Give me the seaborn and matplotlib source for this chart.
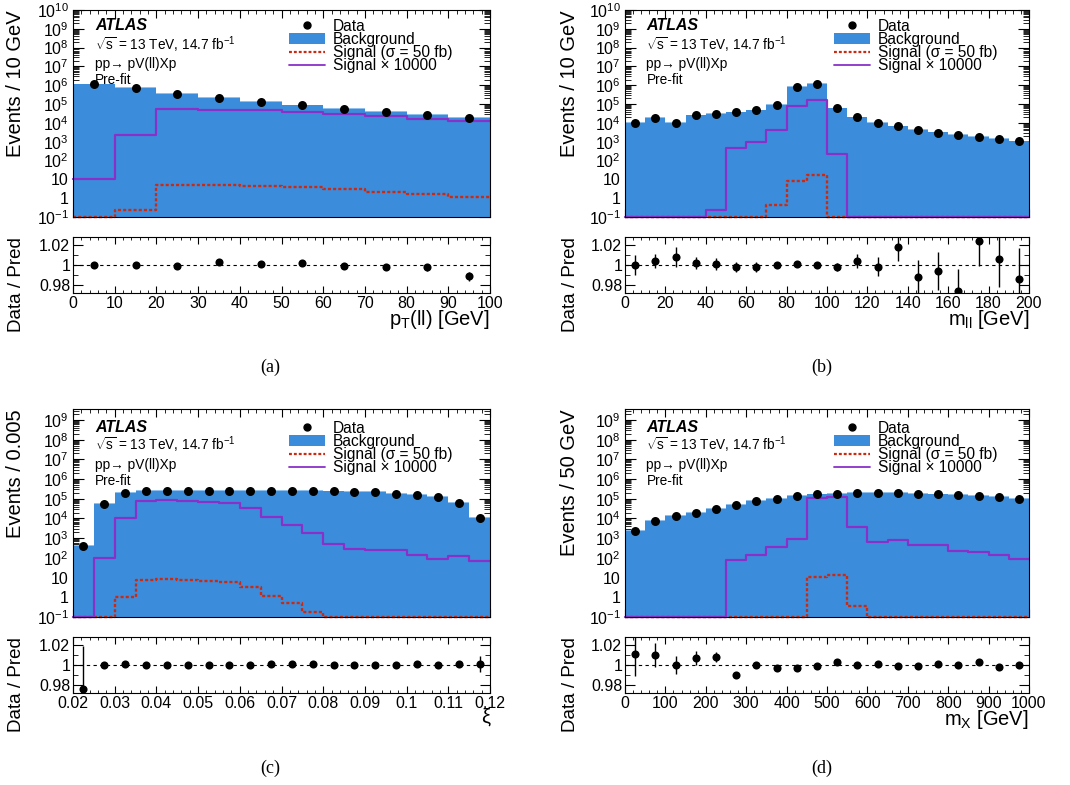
import numpy as np
import matplotlib
matplotlib.use("Agg")
import matplotlib.pyplot as plt
from matplotlib.ticker import MultipleLocator, LogLocator, FuncFormatter, NullFormatter, FixedLocator
from matplotlib.lines import Line2D
from matplotlib.patches import Patch
import seaborn as sns

# ---------------------------------------------------------------- binning
pt_edges = np.arange(0, 101, 10)
mll_edges = np.arange(0, 201, 10)
xi_edges = np.linspace(0.02, 0.12, 21)
mx_edges = np.arange(0, 1001, 50)

# ---------------------------------------------------------------- pT(ll)
pt_background = [1.1e6, 7.5e5, 3.4e5, 2.1e5, 1.3e5, 8.5e4, 5.8e4, 3.9e4, 2.7e4, 1.9e4]
pt_signal = [1.1e-3, 0.24, 5.2, 4.9, 4.7, 3.9, 3.0, 2.2, 1.6, 1.2]
pt_ratio = [1.000, 1.0003, 0.999, 1.003, 1.0014, 1.002, 0.999, 0.9976, 0.9976, 0.9885]
pt_ratio_err = [0.001, 0.001, 0.0012, 0.0015, 0.0017, 0.002, 0.0024, 0.003, 0.0037, 0.0045]

# ---------------------------------------------------------------- m_ll
mll_background = [1.05e4, 1.9e4, 1.0e4, 2.5e4, 3.0e4, 3.6e4, 4.6e4, 9.0e4, 8.5e5, 1.15e6,
                  5.9e4, 1.95e4, 9.8e3, 6.5e3, 4.2e3, 3.1e3, 2.3e3, 1.85e3, 1.35e3, 1.05e3]
mll_signal = [0.0, 0.0, 0.0, 0.0, 2.5e-5, 0.049, 0.098, 0.41, 8.0, 16.5,
              0.022, 0.0, 0.0, 0.0, 0.0, 0.0, 0.0, 0.0, 0.0, 0.0]
mll_ratio = [1.000, 1.0044, 1.008, 1.0024, 1.001, 0.9976, 0.9976, 0.9997, 1.001, 0.9997,
             0.9983, 1.0044, 0.9983, 1.0183, 0.988, 0.9939, 0.974, 1.024, 1.0058, 0.9858]
mll_ratio_err = [0.0098, 0.007, 0.01, 0.006, 0.006, 0.005, 0.005, 0.003, 0.0012, 0.001,
                 0.004, 0.007, 0.01, 0.014, 0.017, 0.019, 0.022, 0.025, 0.028, 0.031]

# ---------------------------------------------------------------- xi
xi_background = [420, 5.4e4, 2.05e5, 2.4e5, 2.45e5, 2.45e5, 2.45e5, 2.45e5, 2.4e5, 2.4e5,
                 2.4e5, 2.4e5, 2.35e5, 2.3e5, 2.2e5, 1.85e5, 1.55e5, 1.2e5, 6.0e4, 1.1e4]
xi_signal = [0.0, 0.0096, 1.05, 7.9, 8.5, 7.6, 7.0, 5.8, 3.4, 1.17,
             0.49, 0.185, 0.049, 0.0275, 0.0255, 0.0245, 0.0148, 0.0089, 0.0127, 0.0072]
xi_ratio = [0.9759, 1.000, 1.0014, 0.9997, 0.9997, 1.000, 0.9997, 0.9997, 1.0003, 1.001,
            1.0007, 1.0007, 1.000, 1.0003, 1.000, 1.0003, 1.0007, 1.0003, 1.001, 1.001]
xi_ratio_err = [0.043, 0.0015, 0.0008, 0.0008, 0.0008, 0.0008, 0.0008, 0.0008, 0.0008, 0.0008,
                0.0008, 0.0008, 0.0008, 0.0008, 0.0008, 0.0009, 0.001, 0.0012, 0.003, 0.0086]

# ---------------------------------------------------------------- m_X
mx_background = [2.27e3, 7.2e3, 1.3e4, 1.99e4, 3.07e4, 4.85e4, 7.6e4, 1.0e5, 1.37e5, 1.67e5,
                 1.8e5, 2.0e5, 2.0e5, 1.95e5, 1.8e5, 1.67e5, 1.55e5, 1.37e5, 1.2e5, 1.0e5]
mx_signal = [0.0, 0.0, 0.0, 0.0, 0.0, 0.0076, 0.0148, 0.034, 0.09, 11.0,
             13.0, 0.36, 0.063, 0.083, 0.046, 0.046, 0.0235, 0.0204, 0.0148, 0.0083]
mx_ratio = [1.0113, 1.0103, 1.000, 1.0072, 1.0082, 0.990, 1.000, 0.997, 0.9973, 0.9986,
            1.0027, 1.000, 1.0014, 0.9986, 0.999, 1.0007, 1.000, 1.0027, 0.998, 1.000]
mx_ratio_err = [0.022, 0.0125, 0.009, 0.007, 0.005, 0.003, 0.002, 0.0015, 0.0013, 0.0012,
                0.0012, 0.0012, 0.0012, 0.0012, 0.0012, 0.0012, 0.0012, 0.0013, 0.0013, 0.0014]

signal_scale = 10000
background_rel_unc = 0.1

info_lines = ["ATLAS", r"$\sqrt{\mathregular{s}}$ = 13 TeV, 14.7 fb$^{-1}$",
              "pp\u2192 pV(ll)Xp", "Pre-fit"]
legend_labels = ["Data", "Background", "Signal (\u03c3 = 50 fb)", "Signal \u00d7 10000"]

# ---------------------------------------------------------------- style
sns.set_theme(style="ticks")
plt.rcParams.update({
    "font.family": ["Liberation Sans", "DejaVu Sans"],
    "mathtext.fontset": "custom",
    "mathtext.rm": "Liberation Sans",
    "mathtext.it": "Liberation Sans:italic",
    "mathtext.bf": "Liberation Sans:bold",
    "axes.linewidth": 0.8,
    "axes.edgecolor": "black",
    "axes.labelcolor": "black",
    "text.color": "black",
    "xtick.color": "black",
    "ytick.color": "black",
})

BG_COLOR = "#3b8ddc"
BAND_COLOR = "#8fc0ee"
SIG_COLOR = "#cc2a10"
SIGX_COLOR = "#8a30c8"
YMIN = 0.1

W, H = 1070, 785
fig = plt.figure(figsize=(W / 100, H / 100), dpi=100)


def rect(left, top, w, h):
    return [left / W, 1 - (top + h) / H, w / W, h / H]


def log_label(v, pos):
    if v <= 0:
        return ""
    e = int(round(np.log10(v)))
    if e == 0:
        return "1"
    if e == 1:
        return "10"
    return r"$10^{%d}$" % e


panels = [
    dict(edges=pt_edges, bg=pt_background, sig=pt_signal, ratio=pt_ratio, err=pt_ratio_err,
         ylabel="Events / 10 GeV", xlabel=r"$\mathregular{p_T}$(ll) [GeV]",
         xmaj=10, xmin=2, col=0, row=0, tag="(a)"),
    dict(edges=mll_edges, bg=mll_background, sig=mll_signal, ratio=mll_ratio, err=mll_ratio_err,
         ylabel="Events / 10 GeV", xlabel=r"$\mathregular{m_{ll}}$ [GeV]",
         xmaj=20, xmin=4, col=1, row=0, tag="(b)"),
    dict(edges=xi_edges, bg=xi_background, sig=xi_signal, ratio=xi_ratio, err=xi_ratio_err,
         ylabel="Events / 0.005", xlabel="\u03be",
         xmaj=0.01, xmin=0.002, col=0, row=1, tag="(c)"),
    dict(edges=mx_edges, bg=mx_background, sig=mx_signal, ratio=mx_ratio, err=mx_ratio_err,
         ylabel="Events / 50 GeV", xlabel=r"$\mathregular{m_X}$ [GeV]",
         xmaj=100, xmin=20, col=1, row=1, tag="(d)"),
]

col_left = [73, 625]
col_width = [417, 404]
main_top = [10, 409]
main_height = [207, 208]
ratio_top = [237, 637]
ratio_height = [56, 56]
y_upper = [1e10, 3.6e9]
info_y = [[0.927, 0.83, 0.739, 0.664], [0.912, 0.828, 0.733, 0.656]]
legend_y = [0.958, 0.943]
tag_pos = [[(270, 367), (822, 367)], [(270, 768), (822, 768)]]

for p in panels:
    c, r = p["col"], p["row"]
    edges = np.asarray(p["edges"], dtype=float)
    bin_list = list(edges)
    centers = 0.5 * (edges[:-1] + edges[1:])
    bg = np.asarray(p["bg"], dtype=float)
    sig = np.asarray(p["sig"], dtype=float)
    ratio = np.asarray(p["ratio"], dtype=float)
    err = np.asarray(p["err"], dtype=float)
    data = bg * ratio

    ax = fig.add_axes(rect(col_left[c], main_top[r], col_width[c], main_height[r]))
    rax = fig.add_axes(rect(col_left[c], ratio_top[r], col_width[c], ratio_height[r]))
    ax.set_yscale("log")

    # background with its uncertainty band on top
    sns.histplot(x=centers, weights=bg * (1 + background_rel_unc), bins=bin_list, element="step",
                 fill=True, color=BAND_COLOR, alpha=1, linewidth=0, ax=ax, zorder=1)
    sns.histplot(x=centers, weights=bg, bins=bin_list, element="step", fill=True,
                 color=BG_COLOR, alpha=1, linewidth=0, ax=ax, zorder=2)
    # signal at nominal cross-section and scaled up
    sns.histplot(x=centers, weights=np.maximum(sig, YMIN), bins=bin_list, element="step",
                 fill=False, color=SIG_COLOR, linewidth=1.7, linestyle=(0, (1.3, 0.9)),
                 ax=ax, zorder=3, clip_on=False)
    sns.histplot(x=centers, weights=np.maximum(sig * signal_scale, YMIN), bins=bin_list,
                 element="step", fill=False, color=SIGX_COLOR, linewidth=1.6,
                 ax=ax, zorder=4, clip_on=False)
    sns.scatterplot(x=centers, y=data, ax=ax, color="black", s=42, linewidth=0,
                    zorder=6, legend=False)

    ax.set_xlim(edges[0], edges[-1])
    ax.set_ylim(YMIN, y_upper[r])
    ax.yaxis.set_major_locator(LogLocator(base=10, numticks=30))
    ax.yaxis.set_minor_locator(LogLocator(base=10, subs=np.arange(2, 10), numticks=30))
    ax.yaxis.set_major_formatter(FuncFormatter(log_label))
    ax.yaxis.set_minor_formatter(NullFormatter())
    ax.xaxis.set_major_locator(MultipleLocator(p["xmaj"]))
    ax.xaxis.set_minor_locator(MultipleLocator(p["xmin"]))
    ax.xaxis.set_major_formatter(NullFormatter())
    ax.tick_params(axis="x", labelbottom=False)
    ax.tick_params(which="both", direction="in", top=True, right=True, labelsize=11.5, pad=3)
    ax.tick_params(axis="y", which="major", length=8, width=0.8)
    ax.tick_params(axis="y", which="minor", length=4, width=0.6)
    ax.tick_params(axis="x", which="major", length=6, width=0.8)
    ax.tick_params(axis="x", which="minor", length=3, width=0.6)
    ax.set_xlabel("")
    ax.set_ylabel(p["ylabel"], fontsize=14.5, loc="top")
    ax.yaxis.set_label_coords(-0.115, 1.0)
    for s in ax.spines.values():
        s.set_zorder(10)

    # experiment label block
    ax.text(0.053, info_y[r][0], info_lines[0], transform=ax.transAxes, fontsize=11.5,
            fontweight="bold", fontstyle="italic", va="center", ha="left")
    for k in (1, 2, 3):
        ax.text(0.053, info_y[r][k], info_lines[k], transform=ax.transAxes, fontsize=9.8,
                va="center", ha="left")

    handles = [
        Line2D([], [], marker="o", color="black", linestyle="none", markersize=5),
        Patch(facecolor=BG_COLOR, edgecolor="none"),
        Line2D([], [], color=SIG_COLOR, linewidth=1.6, linestyle=(0, (1.3, 0.9))),
        Line2D([], [], color=SIGX_COLOR, linewidth=1.3),
    ]
    ax.legend(handles, legend_labels, loc="upper left", bbox_to_anchor=(0.518, legend_y[r]),
              frameon=False, fontsize=11.2, handlelength=2.3, handleheight=0.7,
              handletextpad=0.5, labelspacing=-0.12, borderpad=0, borderaxespad=0)

    # data / prediction ratio
    rax.axhline(1.0, color="black", linestyle=(0, (3, 3)), linewidth=0.8, zorder=1)
    rax.errorbar(centers, ratio, yerr=err, fmt="none", ecolor="black", elinewidth=1.0, zorder=2)
    sns.scatterplot(x=centers, y=ratio, ax=rax, color="black", s=34, linewidth=0,
                    zorder=3, legend=False)
    rax.set_xlim(edges[0], edges[-1])
    rax.set_ylim(0.9715, 1.0285)
    rax.yaxis.set_major_locator(FixedLocator([0.98, 1.0, 1.02]))
    rax.yaxis.set_minor_locator(MultipleLocator(0.01))
    rax.yaxis.set_minor_formatter(NullFormatter())
    rax.yaxis.set_major_formatter(FuncFormatter(lambda v, pos: "%g" % round(v, 3)))
    rax.xaxis.set_major_locator(MultipleLocator(p["xmaj"]))
    rax.xaxis.set_minor_locator(MultipleLocator(p["xmin"]))
    rax.xaxis.set_minor_formatter(NullFormatter())
    rax.xaxis.set_major_formatter(FuncFormatter(lambda v, pos: "%g" % round(v, 4)))
    rax.tick_params(which="both", direction="in", top=True, right=True, labelsize=11.5, pad=2)
    rax.tick_params(axis="y", which="major", length=7, width=0.8)
    rax.tick_params(axis="y", which="minor", length=3.5, width=0.6)
    rax.tick_params(axis="x", which="major", length=5, width=0.8)
    rax.tick_params(axis="x", which="minor", length=2.5, width=0.6)
    rax.set_ylabel("Data / Pred", fontsize=13.5, loc="top")
    rax.yaxis.set_label_coords(-0.115, 1.0)
    rax.set_xlabel(p["xlabel"], fontsize=14.5, loc="right")
    rax.xaxis.set_label_coords(1.0, -0.26)

    tx, ty = tag_pos[r][c]
    fig.text(tx / W, 1 - ty / H, p["tag"], family="Liberation Serif", fontsize=13,
             ha="center", va="center")

fig.savefig("out.png", dpi=100)
